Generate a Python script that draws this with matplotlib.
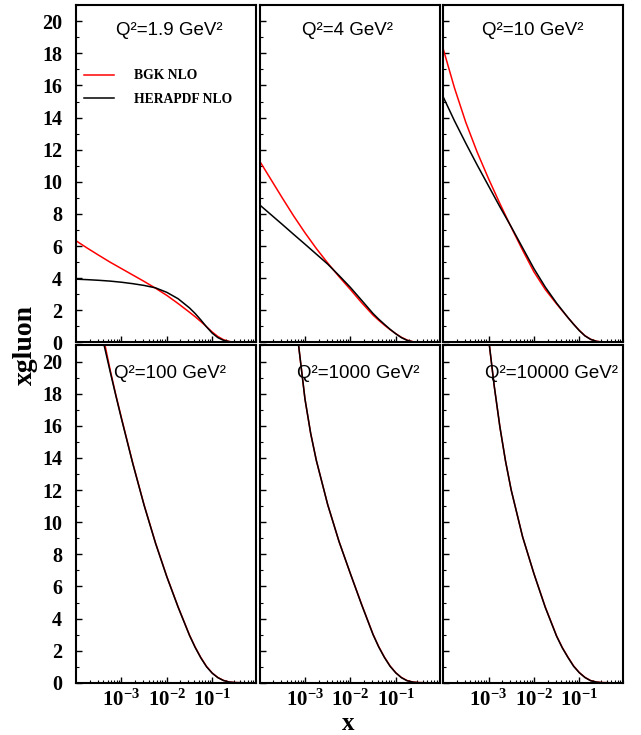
import matplotlib
matplotlib.use("Agg")
import matplotlib.pyplot as plt
import numpy as np
from matplotlib.ticker import FixedLocator, MultipleLocator

plt.rcParams['font.family'] = ['Liberation Serif', 'DejaVu Serif']
plt.rcParams['mathtext.fontset'] = 'custom'
plt.rcParams['mathtext.rm'] = 'Liberation Serif:bold'
plt.rcParams['mathtext.bf'] = 'Liberation Serif:bold'
plt.rcParams['mathtext.it'] = 'Liberation Serif:bold'

# log10(x) grid for the low Q2 panels (finer near the knee)
logx_low = [-4, -3.75, -3.5, -3.25, -3, -2.75, -2.5, -2.25, -2, -1.75, -1.5,
            -1.375, -1.25, -1.125, -1, -0.875, -0.75, -0.625, -0.5, -0.25, 0]

# Q2 = 1.9
bgk_19 = [6.33, 5.87, 5.43, 5.0, 4.6, 4.2, 3.8, 3.38, 2.93, 2.42, 1.88,
          1.6, 1.3, 0.98, 0.65, 0.37, 0.17, 0.06, 0.015, 0.0, 0.0]
hera_19 = [3.94, 3.91, 3.87, 3.82, 3.75, 3.66, 3.55, 3.4, 3.12, 2.72, 2.15,
           1.8, 1.4, 0.97, 0.58, 0.3, 0.13, 0.05, 0.01, 0.0, 0.0]
# Q2 = 4
bgk_4 = [11.3, 10.15, 9.0, 7.88, 6.83, 5.85, 4.95, 4.1, 3.3, 2.47, 1.7,
         1.38, 1.08, 0.8, 0.55, 0.32, 0.15, 0.05, 0.015, 0.0, 0.0]
hera_4 = [8.57, 7.96, 7.35, 6.73, 6.12, 5.5, 4.88, 4.17, 3.43, 2.62, 1.8,
          1.45, 1.13, 0.82, 0.54, 0.3, 0.13, 0.04, 0.01, 0.0, 0.0]
# Q2 = 10
bgk_10 = [18.3, 15.85, 13.7, 11.85, 10.2, 8.65, 7.17, 5.75, 4.4, 3.3, 2.4,
          1.97, 1.55, 1.14, 0.75, 0.42, 0.2, 0.08, 0.025, 0.0, 0.0]
hera_10 = [15.3, 13.8, 12.4, 11.05, 9.75, 8.45, 7.2, 5.9, 4.6, 3.45, 2.45,
           2.0, 1.55, 1.13, 0.74, 0.41, 0.19, 0.07, 0.02, 0.0, 0.0]

# high Q2 panels: curves enter the frame at the top (xgluon = 21)
logx_100 = [-3.38, -3.25, -3.125, -3, -2.75, -2.5, -2.25, -2, -1.75, -1.5,
            -1.375, -1.25, -1.125, -1, -0.875, -0.75, -0.625, -0.5, -0.25, 0]
logx_100_bgk = [-3.36, -3.25, -3.125, -3, -2.75, -2.5, -2.25, -2, -1.75, -1.5,
                -1.375, -1.25, -1.125, -1, -0.875, -0.75, -0.625, -0.5, -0.25, 0]
bgk_100 = [21.0, 19.5, 17.95, 16.5, 13.68, 11.07, 8.72, 6.62, 4.72, 2.97,
           2.22, 1.57, 1.02, 0.61, 0.33, 0.15, 0.05, 0.015, 0.0, 0.0]
hera_100 = [21.0, 19.4, 17.9, 16.45, 13.65, 11.05, 8.7, 6.6, 4.7, 2.95,
            2.2, 1.55, 1.0, 0.6, 0.32, 0.14, 0.05, 0.015, 0.0, 0.0]

logx_1000 = [-3.14, -3.0, -2.875, -2.75, -2.5, -2.25, -2, -1.75, -1.5,
             -1.375, -1.25, -1.125, -1, -0.875, -0.75, -0.625, -0.5, -0.25, 0]
bgk_1000 = [21.0, 17.67, 15.54, 13.85, 11.1, 8.8, 6.8, 4.87, 3.02,
            2.25, 1.6, 1.05, 0.63, 0.33, 0.14, 0.05, 0.015, 0.0, 0.0]
hera_1000 = [21.0, 17.67, 15.54, 13.85, 11.1, 8.8, 6.8, 4.85, 3.0,
             2.23, 1.58, 1.03, 0.62, 0.32, 0.13, 0.045, 0.01, 0.0, 0.0]

logx_10000 = [-2.98, -2.875, -2.75, -2.625, -2.5, -2.25, -2, -1.75, -1.5,
              -1.375, -1.25, -1.125, -1, -0.875, -0.75, -0.625, -0.5, -0.25, 0]
bgk_10000 = [21.0, 18.5, 15.95, 13.8, 12.0, 9.1, 6.8, 4.72, 2.92,
             2.2, 1.6, 1.05, 0.64, 0.34, 0.14, 0.05, 0.015, 0.0, 0.0]
hera_10000 = [21.0, 18.5, 15.95, 13.8, 12.0, 9.1, 6.8, 4.7, 2.9,
              2.18, 1.58, 1.03, 0.63, 0.33, 0.13, 0.045, 0.01, 0.0, 0.0]

titles = ['Q²=1.9 GeV²', 'Q²=4 GeV²', 'Q²=10 GeV²',
          'Q²=100 GeV²', 'Q²=1000 GeV²', 'Q²=10000 GeV²']
x_ticks = [1e-3, 1e-2, 1e-1]
x_tick_labels = [r'$10^{-3}$', r'$10^{-2}$', r'$10^{-1}$']

panels = [
    (logx_low, bgk_19, logx_low, hera_19),
    (logx_low, bgk_4, logx_low, hera_4),
    (logx_low, bgk_10, logx_low, hera_10),
    (logx_100_bgk, bgk_100, logx_100, hera_100),
    (logx_1000, bgk_1000, logx_1000, hera_1000),
    (logx_10000, bgk_10000, logx_10000, hera_10000),
]
title_pos = [(0.52, 0.926), (0.49, 0.926), (0.5, 0.926),
             (0.52, 0.917), (0.55, 0.917), (0.605, 0.917)]

fig, axes = plt.subplots(2, 3, figsize=(6.41, 7.35), dpi=100, sharex=True, sharey=True)
fig.subplots_adjust(left=0.1186, right=0.972, top=0.993, bottom=0.071, wspace=0.02, hspace=0.009)

for i, ax in enumerate(axes.flat):
    lr, yr, lb, yb = panels[i]
    ax.plot(10.0 ** np.array(lr), yr, color='red', lw=1.1, label='BGK NLO')
    ax.plot(10.0 ** np.array(lb), yb, color='black', lw=1.1, label='HERAPDF NLO')
    ax.set_xscale('log')
    ax.set_xlim(1e-4, 0.92)
    ax.set_ylim(0, 21)
    ax.xaxis.set_major_locator(FixedLocator(x_ticks))
    ax.set_xticklabels(x_tick_labels)
    ax.yaxis.set_major_locator(MultipleLocator(2))
    ax.yaxis.set_minor_locator(MultipleLocator(1))
    ax.tick_params(which='both', direction='in', top=False, right=False)
    ax.tick_params(which='major', length=4, width=1)
    ax.tick_params(which='minor', length=2, width=0.8)
    ax.tick_params(axis='y', labelsize=14.5, pad=10)
    ax.tick_params(axis='x', labelsize=15, pad=5)
    for lab in ax.get_yticklabels():
        lab.set_fontweight('bold')
    for s in ax.spines.values():
        s.set_linewidth(1.5)
    ax.text(title_pos[i][0], title_pos[i][1], titles[i], transform=ax.transAxes,
            ha='center', va='center', fontsize=13.5, family='Liberation Sans')

axes[0, 0].legend(loc='upper left', bbox_to_anchor=(0.006, 0.83), frameon=False,
                  borderpad=0, handlelength=2.2, handletextpad=1.45, labelspacing=0.8,
                  prop={'family': 'Liberation Serif', 'weight': 'bold', 'size': 9.8})

fig.text(0.039, 0.53, 'xgluon', rotation=90, ha='center', va='center',
         fontsize=20, fontweight='bold')
fig.text(0.543, 0.0, 'x', ha='center', va='bottom', fontsize=18, fontweight='bold')

fig.savefig('out.png', dpi=100)
